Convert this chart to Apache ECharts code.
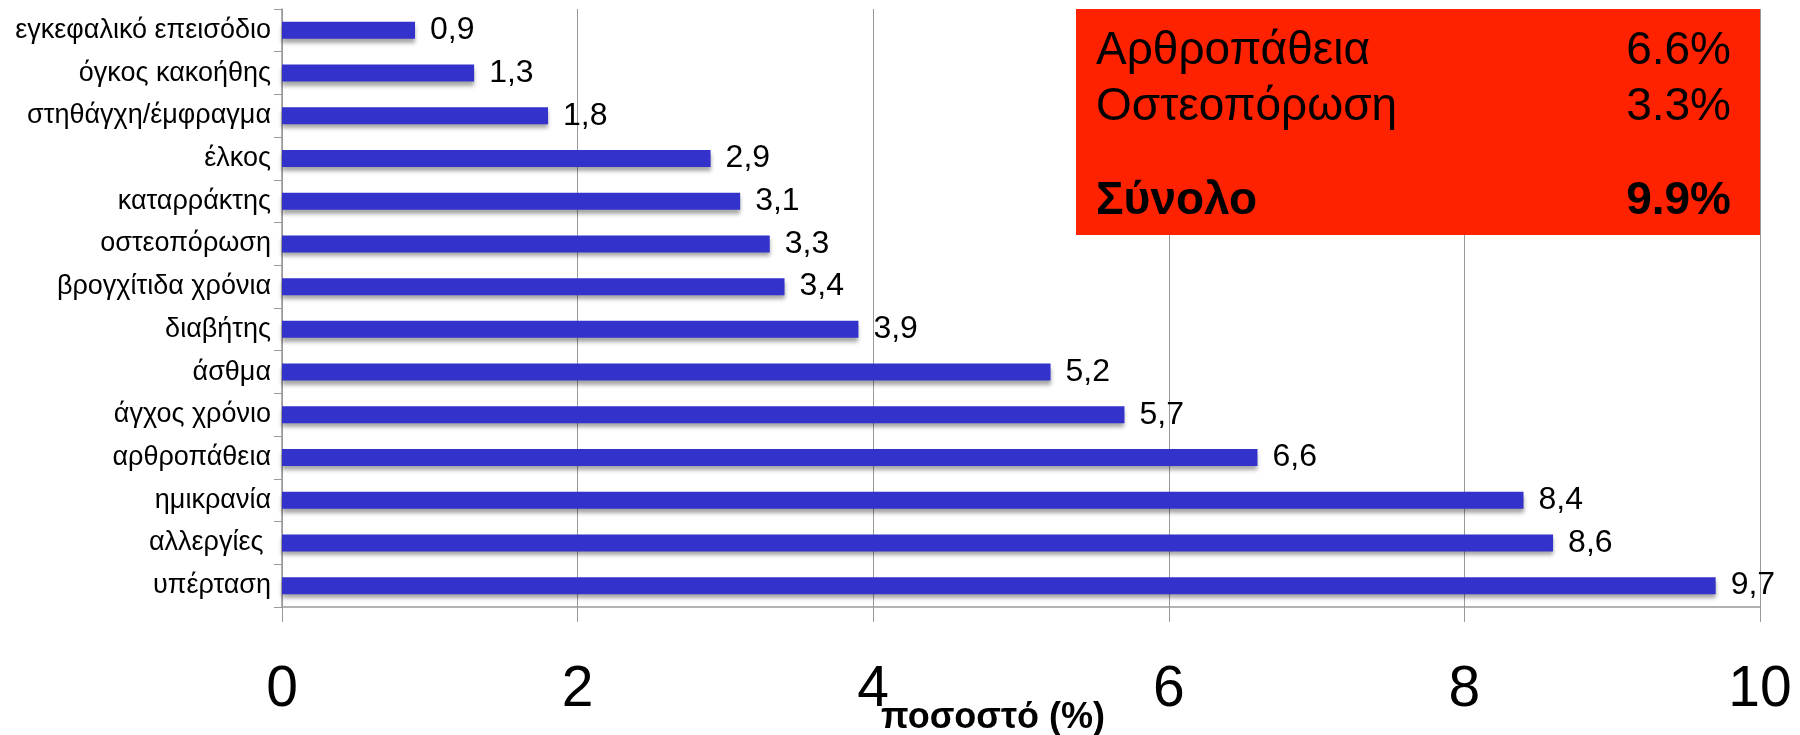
<!DOCTYPE html>
<html>
<head>
<meta charset="utf-8">
<script src="https://cdn.jsdelivr.net/npm/echarts@6/dist/echarts.min.js"></script>
<style>
  html, body { margin: 0; padding: 0; background: #fff; }
  #chart { width: 1800px; height: 735px; }
</style>
</head>
<body>
<div id="chart"></div>
<script>
// bottom to top, as echarts draws a category y axis
const categories = [
  "υπέρταση", "αλλεργίες ", "ημικρανία", "αρθροπάθεια", "άγχος χρόνιο",
  "άσθμα", "διαβήτης", "βρογχίτιδα χρόνια", "οστεοπόρωση", "καταρράκτης",
  "έλκος", "στηθάγχη/έμφραγμα", "όγκος κακοήθης", "εγκεφαλικό επεισόδιο"
];
const values = [9.7, 8.6, 8.4, 6.6, 5.7, 5.2, 3.9, 3.4, 3.3, 3.1, 2.9, 1.8, 1.3, 0.9];

const xTicks = [0, 2, 4, 6, 8, 10];

// red summary box
const boxLabels = ["Αρθροπάθεια", "Οστεοπόρωση", "Σύνολο"];
const boxValues = ["6.6%", "3.3%", "9.9%"];

const font = "'Liberation Sans', Arial, Helvetica, sans-serif";
const chart = echarts.init(document.getElementById("chart"));

const boxTop = [55, 111, 205];
let boxTexts = [];
boxLabels.forEach((t, i) => {
  boxTexts.push({
    type: "text", left: 1096, top: boxTop[i] - 27,
    style: { text: t, fontSize: 46, fontFamily: font, fontWeight: i == 2 ? "bold" : "normal", fill: "#000" }
  });
  boxTexts.push({
    type: "text", right: 1800 - 1731, top: boxTop[i] - 27,
    style: { text: boxValues[i], fontSize: 46, fontFamily: font, fontWeight: i == 2 ? "bold" : "normal", fill: "#000", align: "right" }
  });
});

const option = {
  animation: false,
  textStyle: { fontFamily: font },
  grid: { left: 282, right: 40, top: 9, bottom: 128, outerBoundsMode: "none", containLabel: false },
  xAxis: {
    type: "value",
    min: 0,
    max: 10,
    interval: 2,
    name: "ποσοστό (%)",
    nameLocation: "middle",
    nameGap: 93,
    nameMoveOverlap: false,
    nameTextStyle: { fontSize: 36, fontWeight: "bold", color: "#000", fontFamily: font, padding: [0, 56, 0, 0] },
    axisLine: { show: true, lineStyle: { color: "#999", width: 1.5 } },
    axisTick: { show: true, length: 15, lineStyle: { color: "#999" } },
    splitLine: { show: true, lineStyle: { color: "#999", width: 1 } },
    axisLabel: {
      fontSize: 57, color: "#000", margin: 55, fontFamily: font,
      formatter: v => xTicks.indexOf(v) >= 0 ? String(v) : ""
    }
  },
  yAxis: {
    type: "category",
    data: categories,
    axisLine: { show: true, lineStyle: { color: "#999", width: 1.5 } },
    axisTick: { show: true, length: 8, lineStyle: { color: "#999" } },
    axisLabel: { fontSize: 27, color: "#000", margin: 11, fontFamily: font }
  },
  series: [{
    type: "bar",
    data: values,
    barWidth: 17,
    itemStyle: {
      color: "#3333cc",
      shadowColor: "rgba(0,0,0,0.35)",
      shadowBlur: 4,
      shadowOffsetY: 4
    },
    label: {
      show: true,
      position: "right",
      distance: 15,
      fontSize: 32,
      color: "#000",
      fontFamily: font,
      formatter: p => String(p.value).replace(".", ",")
    }
  }],
  graphic: [
    {
      type: "rect", left: 1076, top: 9, z: 100,
      shape: { width: 1760 - 1076, height: 235 - 9 },
      style: { fill: "#ff2200" }
    },
    ...boxTexts.map(t => Object.assign(t, { z: 101 }))
  ]
};

chart.setOption(option);
</script>
</body>
</html>
